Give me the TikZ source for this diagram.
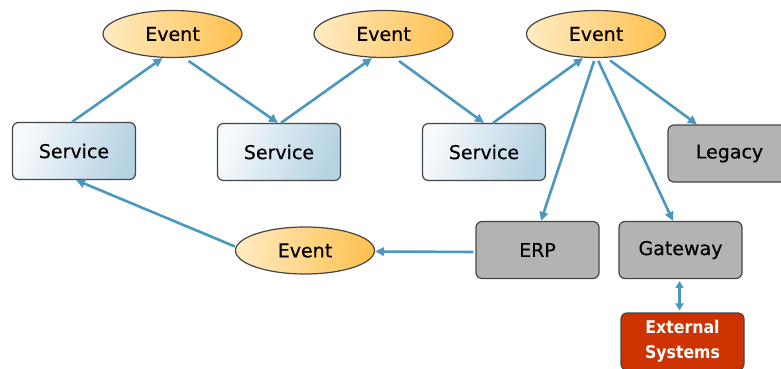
\documentclass[tikz,border=0pt]{standalone}
\usepackage{fontspec}
\setmainfont{DejaVu Sans}[FakeBold=0.35]
\newfontfamily\condbold{DejaVu Sans Condensed Bold}
\usetikzlibrary{arrows.meta,shapes.geometric,calc}

\definecolor{linkblue}{HTML}{4A98C0}
\definecolor{edgegray}{HTML}{454545}
\definecolor{boxgray}{HTML}{B3B3B3}
\definecolor{extred}{HTML}{CC3300}
\definecolor{evlight}{HTML}{FFEBC2}
\definecolor{evdark}{HTML}{FFC04E}
\definecolor{svlight}{HTML}{F7FAFC}
\definecolor{svdark}{HTML}{B6D2E3}

\begin{document}
\begin{tikzpicture}[x=1pt,y=-1pt,
  lbl/.style={font=\fontsize{19}{23}\selectfont, text=black},
  boxbase/.style={rectangle, rounded corners=6pt, draw=edgegray, line width=1.2pt,
    minimum width=123pt, minimum height=57pt, inner sep=0pt},
  event/.style={ellipse, draw=edgegray, line width=1.2pt, minimum width=139pt,
    minimum height=47pt, inner sep=0pt, left color=evlight, right color=evdark, lbl},
  svc/.style={boxbase, left color=svlight, right color=svdark, shading angle=70, lbl},
  sys/.style={boxbase, fill=boxgray, lbl},
  extbox/.style={boxbase, fill=extred, text=white, align=center,
    font=\condbold\fontsize{17.5}{25}\selectfont},
  link/.style={draw=linkblue, line width=2.6pt,
    -{Triangle[length=9pt,width=8.5pt]}},
  dlink/.style={draw=linkblue, line width=2.6pt,
    {Triangle[length=7pt,width=8pt]}-{Triangle[length=7pt,width=8pt]}},
]
\useasboundingbox (0,0) rectangle (781,369);

% events
\node[event] (ev1) at (172.5,34) {Event};
\node[event] (ev2) at (383.5,34) {Event};
\node[event] (ev3) at (596,34) {Event};
\node[event] (ev4) at (305,250.5) {Event};

% services
\node[svc] (sv1) at (74,151) {Service};
\node[svc] (sv2) at (279,152) {Service};
\node[svc] (sv3) at (484,152) {Service};

% backend systems
\node[sys] (legacy) at (729.5,153.5) {Legacy};
\node[sys] (erp) at (537.5,250) {ERP};
\node[sys] (gw) at (680.5,250) {Gateway};
\node[extbox] (ext) at (682.5,341.5) {External\\Systems};

% event flow
\draw[link] ([xshift=-2pt]sv1.north) -- ([xshift=-10pt]ev1.south);
\draw[link, shorten <=5pt] ([xshift=12pt]ev1.south) -- ([xshift=-1pt]sv2.north);
\draw[link] ([xshift=2pt]sv2.north) -- ([xshift=-11.5pt]ev2.south);
\draw[link, shorten <=5pt] ([xshift=11.5pt]ev2.south) -- (sv3.north);
\draw[link] ([xshift=9pt]sv3.north) -- ([xshift=-13pt]ev3.south);
\draw[link, shorten <=3pt] ([xshift=-1pt]ev3.south) -- ([xshift=3.5pt]erp.north);
\draw[link, shorten <=3pt] ([xshift=1pt]ev3.south) -- ([xshift=-7.5pt]gw.north);
\draw[link, shorten <=4pt] ([xshift=11pt]ev3.south) -- ([xshift=-32.5pt]legacy.north);
\draw[link, shorten <=2pt] ([yshift=-2pt]erp.west) -- ([yshift=-1pt]ev4.east);
\draw[link] ([yshift=4pt]ev4.west) -- ([xshift=2pt]sv1.south);
\draw[dlink, shorten <=2pt, shorten >=2pt] ([xshift=-1pt]gw.south) -- ([xshift=-1pt]gw.south |- ext.north);
\end{tikzpicture}
\end{document}
